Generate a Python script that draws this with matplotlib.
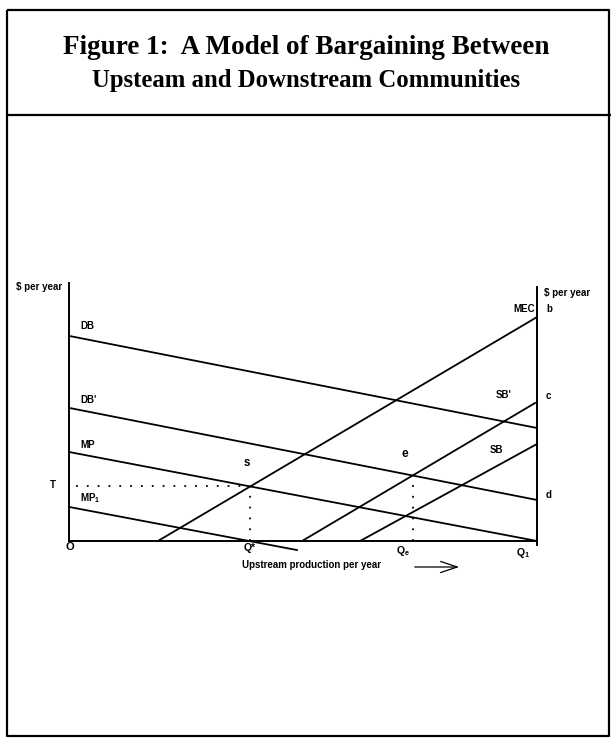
import matplotlib
matplotlib.use("Agg")
import matplotlib.pyplot as plt
import numpy as np

# ---- data (x: upstream production, 0..100 with Q1 = 100; y: $ per year, 0..100)
curve_names = ["DB", "DB'", "MP", "MP1", "MEC", "SB'", "SB"]
x_start = [0.0, 0.0, 0.0, 0.0, 19.0, 49.8, 62.2]
y_start = [79.5, 51.6, 34.5, 13.2, 0.0, 0.0, 0.0]
x_end = [100.0, 100.0, 100.0, 48.7, 100.0, 99.6, 100.0]
y_end = [43.8, 15.9, 0.0, -3.5, 86.8, 53.5, 37.6]

title_lines = ["Figure 1:  A Model of Bargaining Between",
               "Upsteam and Downstream Communities"]
x_axis_label = "Upstream production per year"
y_axis_label = "$ per year"

W, H = 611, 741
fig = plt.figure(figsize=(W / 100, H / 100), dpi=100)

# background frame in pixel coordinates
bg = fig.add_axes([0, 0, 1, 1])
bg.set_xlim(0, W)
bg.set_ylim(H, 0)
bg.axis("off")
frame_kw = dict(color="black", lw=1.6, solid_capstyle="butt")
bg.plot([7, 609, 609, 7, 7], [10, 10, 736, 736, 10], **frame_kw)
bg.plot([7, 611], [115, 115], **frame_kw)
serif = ["Liberation Serif", "DejaVu Serif"]
bg.text(306, 47, title_lines[0], ha="center", va="center", fontsize=19.5,
        fontweight="bold", family=serif)
bg.text(306, 81, title_lines[1], ha="center", va="center", fontsize=17.8,
        fontweight="bold", family=serif)

# chart axes
L, R, B, T = 69, 537, 541, 283
ax = fig.add_axes([L / W, 1 - B / H, (R - L) / W, (B - T) / H])
ax.set_xlim(0, 100)
ax.set_ylim(0, 100)
ax.patch.set_alpha(0)
ax.spines["top"].set_visible(False)
for s in ["left", "bottom", "right"]:
    ax.spines[s].set_linewidth(1.4)
ax.spines["right"].set_bounds(-1.6, 98.4)
ax.spines["right"].set_clip_on(False)
ax.set_xticks([])
ax.set_yticks([])

lines = {}
for name, xs, ys, xe, ye in zip(curve_names, x_start, y_start, x_end, y_end):
    ax.plot([xs, xe], [ys, ye], color="black", lw=1.3, clip_on=False)
    lines[name] = (xs, ys, xe, ye)


def intersect(a, b):
    x1, y1, x2, y2 = lines[a]
    x3, y3, x4, y4 = lines[b]
    m1 = (y2 - y1) / (x2 - x1)
    m2 = (y4 - y3) / (x4 - x3)
    x = (y3 - y1 + m1 * x1 - m2 * x3) / (m1 - m2)
    return x, y1 + m1 * (x - x1)


qs_x, t_y = intersect("MP", "MEC")
qe_x, e_y = intersect("SB'", "DB'")
dot = dict(color="black", lw=1.3, linestyle=(0, (1, 5)))
ax.plot([1.5, qs_x], [t_y, t_y], **dot)
ax.plot([qs_x, qs_x], [0, t_y], **dot)
ax.plot([qe_x, qe_x], [0, e_y], **dot)

sans = ["Liberation Sans", "DejaVu Sans"]
fs = 7
tk = dict(fontweight="bold", family=sans, color="black")

def px(xp, yp):
    return ((xp - L) / (R - L) * 100, (B - yp) / (B - T) * 100)

def lab(xp, yp, s, ha="left", size=fs):
    x, y = px(xp, yp)
    ax.text(x, y, s, ha=ha, va="center", clip_on=False, fontsize=size, **tk)

lab(16, 287, y_axis_label)
lab(544, 293, y_axis_label)
lab(80, 326, "DB")
lab(80, 400, "DB'")
lab(80, 445, "MP")
lab(80, 498, "MP$_\\mathregular{1}$")
lab(50, 485, "T")
lab(66, 547, "O", size=8)
lab(513, 309, "MEC")
lab(546, 309, "b")
lab(496, 395, "SB'")
lab(546, 396, "c")
lab(490, 450, "SB")
lab(546, 495, "d")
lab(250, 548, "Q*", ha="center", size=7.5)
lab(403, 551, "Q$_\\mathregular{e}$", ha="center", size=7.5)
lab(523, 553, "Q$_\\mathregular{1}$", ha="center", size=7.5)
lab(247, 463, "s", ha="center", size=8.5)
lab(405, 454, "e", ha="center", size=8.5)
lab(242, 565, x_axis_label)

a0 = px(412, 567)
a1 = px(462, 567)
ax.annotate("", xy=a1, xytext=a0, annotation_clip=False,
            arrowprops=dict(arrowstyle="->,head_length=1.2,head_width=0.4",
                            lw=0.9, color="black"))

fig.savefig("out.png", dpi=100)
